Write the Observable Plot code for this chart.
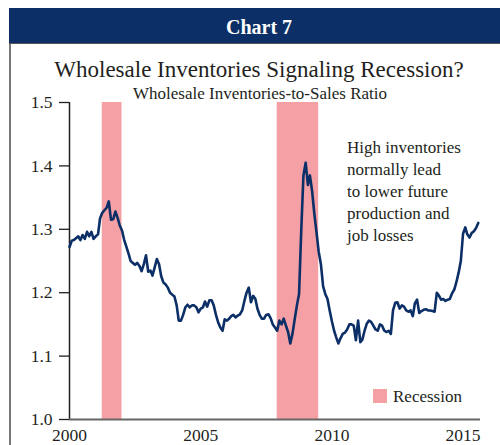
<!DOCTYPE html>
<html><head><meta charset="utf-8">
<script src="https://cdn.jsdelivr.net/npm/d3@7"></script>
<script src="https://cdn.jsdelivr.net/npm/@observablehq/plot@0.6"></script>
<style>
html,body{margin:0;padding:0;background:#fff;}
#wrap{position:relative;width:500px;height:445px;overflow:hidden;font-family:"Liberation Serif",serif;}
#bar{position:absolute;left:9px;top:8px;width:491px;height:35px;background:#0b2f66;border-bottom:1px solid #555;}
#border{position:absolute;left:9px;top:8px;width:2px;height:437px;background:#777;}
#chart{position:absolute;left:0;top:0;}
</style></head>
<body><div id="wrap"><div id="border"></div><div id="bar"></div><div id="chart"></div></div>
<script>
// Monthly wholesale inventories-to-sales ratio, Jan 2000 onward
const startYear = 2000;
const ratio = [
  1.272,1.282,1.283,1.286,1.289,1.283,1.291,1.285,1.296,1.289,1.296,1.285, // 2000
  1.289,1.292,1.317,1.326,1.330,1.334,1.344,1.315,1.316,1.328,1.318,1.306, // 2001
  1.298,1.283,1.273,1.262,1.250,1.247,1.244,1.247,1.242,1.234,1.245,1.259, // 2002
  1.233,1.235,1.227,1.240,1.253,1.245,1.226,1.216,1.213,1.208,1.200,1.197, // 2003
  1.194,1.180,1.156,1.156,1.165,1.177,1.181,1.177,1.180,1.180,1.177,1.169, // 2004
  1.175,1.177,1.186,1.178,1.188,1.188,1.180,1.165,1.153,1.145,1.140,1.158, // 2005
  1.156,1.159,1.163,1.165,1.161,1.164,1.166,1.172,1.187,1.200,1.208,1.185, // 2006
  1.195,1.190,1.175,1.165,1.159,1.159,1.165,1.166,1.160,1.150,1.145,1.140, // 2007
  1.156,1.150,1.159,1.148,1.138,1.120,1.135,1.158,1.180,1.198,1.300,1.385, // 2008
  1.405,1.370,1.385,1.360,1.325,1.295,1.265,1.245,1.210,1.198,1.190,1.172, // 2009
  1.155,1.140,1.130,1.120,1.128,1.135,1.137,1.142,1.150,1.150,1.148,1.125, // 2010
  1.156,1.122,1.126,1.140,1.151,1.156,1.154,1.148,1.142,1.140,1.150,1.148, // 2011
  1.140,1.138,1.140,1.135,1.172,1.184,1.185,1.175,1.180,1.178,1.172,1.170, // 2012
  1.172,1.163,1.183,1.189,1.168,1.171,1.173,1.174,1.172,1.172,1.171,1.170, // 2013
  1.200,1.195,1.189,1.190,1.187,1.189,1.190,1.199,1.205,1.217,1.232,1.250, // 2014
  1.293,1.303,1.292,1.287,1.294,1.297,1.302,1.310                          // 2015
];
const recessionStart = ["2001-04-01", "2007-12-01"];
const recessionEnd   = ["2002-01-01", "2009-07-01"];
const yTicks = [1.0, 1.1, 1.2, 1.3, 1.4, 1.5];
const xTickYears = [2000, 2005, 2010, 2015];
const yDomain = [1.0, 1.5];
const xDomain = [new Date(Date.UTC(2000,0,1)), new Date(Date.UTC(2015,8,1))];
const headerText = "Chart 7";
const titleText = "Wholesale Inventories Signaling Recession?";
const subtitleText = "Wholesale Inventories-to-Sales Ratio";
const noteLines = ["High inventories", "normally lead", "to lower future", "production and", "job losses"];
const legendLabel = "Recession";

const navy = "#0b2f66";
const pink = "#f4a0a5";

const series = ratio.map((v, i) => ({date: new Date(Date.UTC(startYear, i, 1)), ratio: v}));
const recessions = recessionStart.map((s, i) => ({start: new Date(s), end: new Date(recessionEnd[i]), lo: yDomain[0], hi: yDomain[1]}));
const xTicks = xTickYears.map(y => new Date(Date.UTC(y, 0, 1)));

const chart = Plot.plot({
  width: 500, height: 445,
  marginLeft: 69, marginRight: 20, marginTop: 102, marginBottom: 26,
  style: {fontFamily: "'Liberation Serif', serif", fontSize: "17.5px", color: "#231f20", background: "transparent", overflow: "visible"},
  x: {type: "utc", domain: xDomain},
  y: {domain: yDomain},
  marks: [
    Plot.rect(recessions, {x1: "start", x2: "end", y1: "lo", y2: "hi", fill: pink}),
    Plot.axisY({ticks: yTicks, tickSize: 10, tickPadding: 7, tickFormat: d => d.toFixed(1), label: null, stroke: "#231f20", strokeWidth: 1.3}),
    Plot.axisX({ticks: xTicks, tickSize: 0, tickPadding: 9, tickFormat: d => String(d.getUTCFullYear()), label: null}),
    Plot.ruleX([xDomain[0]], {stroke: "#231f20", strokeWidth: 1.5}),
    Plot.ruleY([yDomain[0]], {stroke: "#666", strokeWidth: 2}),
    Plot.line(series, {x: "date", y: "ratio", stroke: navy, strokeWidth: 2.6, strokeLinejoin: "round"})
  ]
});
document.getElementById("chart").appendChild(chart);

const svg = d3.select(chart);
const ff = "'Liberation Serif', serif";
svg.append("text").attr("x", 259).attr("y", 34).attr("text-anchor", "middle")
  .attr("font-family", ff).attr("font-weight", "bold").attr("font-size", 20).attr("fill", "#fff").text(headerText);
svg.append("text").attr("x", 259).attr("y", 77).attr("text-anchor", "middle")
  .attr("font-family", ff).attr("font-size", 23).attr("fill", "#231f20").text(titleText);
svg.append("text").attr("x", 260).attr("y", 99).attr("text-anchor", "middle")
  .attr("font-family", ff).attr("font-size", 17).attr("fill", "#231f20").text(subtitleText);
noteLines.forEach((t, i) => {
  svg.append("text").attr("x", 347).attr("y", 152.7 + 22 * i).attr("text-anchor", "start")
    .attr("font-family", ff).attr("font-size", 17).attr("fill", "#231f20").text(t);
});
svg.append("rect").attr("x", 373).attr("y", 389).attr("width", 14).attr("height", 14).attr("fill", pink);
svg.append("text").attr("x", 393).attr("y", 401.5).attr("text-anchor", "start")
  .attr("font-family", ff).attr("font-size", 17).attr("fill", "#231f20").text(legendLabel);
</script>
</body></html>
